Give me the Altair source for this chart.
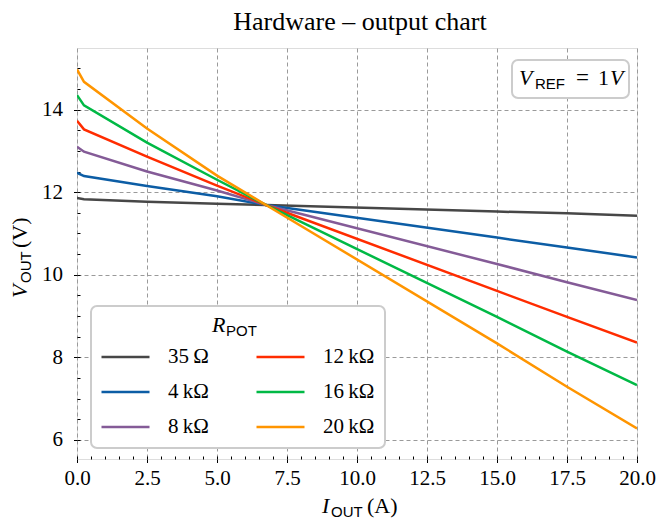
import altair as alt
import pandas as pd

# ---- data ----
I_OUT = [0.0, 0.25, 2.5, 5.0, 6.75, 15.0, 17.5, 20.0]
V_35 = [11.86, 11.83, 11.77, 11.72, 11.69, 11.53, 11.49, 11.43]
V_4K = [12.47, 12.39, 12.15, 11.90, 11.69, 10.90, 10.66, 10.42]
V_8K = [13.10, 12.98, 12.50, 12.04, 11.69, 10.26, 9.82, 9.39]
V_12K = [13.73, 13.52, 12.86, 12.16, 11.69, 9.61, 8.98, 8.36]
V_16K = [14.35, 14.10, 13.20, 12.30, 11.69, 8.98, 8.14, 7.33]
V_20K = [14.97, 14.67, 13.54, 12.40, 11.69, 8.34, 7.29, 6.28]

NAMES = ["35\u2009\u03a9", "4\u2009k\u03a9", "8\u2009k\u03a9",
         "12\u2009k\u03a9", "16\u2009k\u03a9", "20\u2009k\u03a9"]
SERIES = [V_35, V_4K, V_8K, V_12K, V_16K, V_20K]
COLORS = ["#474747", "#0C5DA5", "#845B97", "#FF2C00", "#00B945", "#FF9500"]

X_TICKS = [0.0, 2.5, 5.0, 7.5, 10.0, 12.5, 15.0, 17.5, 20.0]
Y_TICKS = [6, 8, 10, 12, 14]
X_MINOR = [i * 0.5 for i in range(41)]
Y_MINOR = [6 + i * 0.5 for i in range(19)]

rows = []
for k, (name, vals) in enumerate(zip(NAMES, SERIES)):
    for x, v in zip(I_OUT, vals):
        rows.append({"I": x, "V": v, "R": name, "k": k})
df = pd.DataFrame(rows)

SERIF = "Liberation Serif"
SANS = "Liberation Sans"

xscale = alt.Scale(domain=[0, 20], nice=False, zero=False)
yscale = alt.Scale(domain=[5.54, 15.49], nice=False, zero=False)

major_common = dict(labelFont=SERIF, labelFontSize=21, labelColor="black",
                    tickColor="black", tickWidth=1, tickSize=3.5, domain=False,
                    grid=True, gridColor="#9a9a9a", gridDash=[4, 3], gridWidth=1,
                    title=None, labelFlush=False, labelOverlap=False)

lines = alt.Chart(df).mark_line(strokeWidth=2.5, clip=True).encode(
    x=alt.X("I:Q", scale=xscale,
            axis=alt.Axis(values=X_TICKS, format=".1f", orient="bottom",
                          labelPadding=5, **major_common)),
    y=alt.Y("V:Q", scale=yscale,
            axis=alt.Axis(values=Y_TICKS, format="d", orient="left",
                          labelPadding=11, **major_common)),
    color=alt.Color("R:N", scale=alt.Scale(domain=NAMES, range=COLORS),
                    legend=alt.Legend(orient="none", legendX=23, legendY=299,
                                      title=None, columns=2, padding=0,
                                      symbolType="stroke", symbolSize=2304,
                                      symbolStrokeWidth=2.5, labelOffset=17,
                                      labelFont=SERIF, labelFontSize=21,
                                      labelColor="black", columnPadding=46,
                                      rowPadding=14, clipHeight=20)),
    order=alt.Order("k:Q"),
)

minor_common = dict(labels=False, domain=False, grid=False, title=None,
                    tickColor="black", tickWidth=1, tickSize=3, offset=-3)
minor = alt.Chart(df).mark_line(opacity=0).encode(
    x=alt.X("I:Q", axis=alt.Axis(values=X_MINOR, orient="bottom", **minor_common)),
    y=alt.Y("V:Q", axis=alt.Axis(values=Y_MINOR, orient="left", **minor_common)),
)

one = pd.DataFrame({"a": [0]})


def txt(s, x, y, font=SERIF, size=21, style="normal", angle=0, align="left",
        baseline="alphabetic"):
    kw = dict(text=s, font=font, fontSize=size, fontStyle=style, align=align,
              baseline=baseline, color="black")
    if angle:
        kw["angle"] = angle
    return alt.Chart(one).mark_text(**kw).encode(x=alt.value(x), y=alt.value(y))


def box(x1, x2, y1, y2):
    return alt.Chart(one).mark_rect(cornerRadius=6, fill="white", stroke="#cccccc",
                                    strokeWidth=2).encode(
        x=alt.value(x1), x2=alt.value(x2), y=alt.value(y1), y2=alt.value(y2))


layers = [
    lines,
    minor,
    box(14, 308, 258, 400),
    txt("R", 135, 284, style="italic", size=22),
    txt("POT", 149, 288, font=SANS, size=15),
    box(435, 552, 12, 50),
    txt("V", 442, 37, style="italic", size=22),
    txt("REF", 458, 41, font=SANS, size=15),
    txt("=", 499, 37, size=23),
    txt("1", 521, 37, size=22),
    txt("V", 533, 37, style="italic", size=22),
    # title
    txt("Hardware \u2013 output chart", 283, -18, size=26, align="center"),
    # x title
    txt("I", 245, 465, style="italic", size=22),
    txt("OUT", 254, 469, font=SANS, size=15),
    txt("(A)", 290, 465, size=22),
    # y title (rotated)
    txt("V", -50, 250, style="italic", size=22, angle=270),
    txt("OUT", -46, 235, font=SANS, size=15, angle=270),
    txt("(V)", -50, 200, size=22, angle=270),
]

chart = alt.layer(*layers).resolve_axis(
    x="independent", y="independent"
).properties(
    width=560, height=411,
    padding={"left": 69, "top": 40, "right": 19, "bottom": 60},
    autosize=alt.AutoSizeParams(type="none"),
).configure_view(stroke="black", strokeWidth=1.2).configure(background="white")

chart.save("out.html", embed_options={"renderer": "svg", "actions": False})
